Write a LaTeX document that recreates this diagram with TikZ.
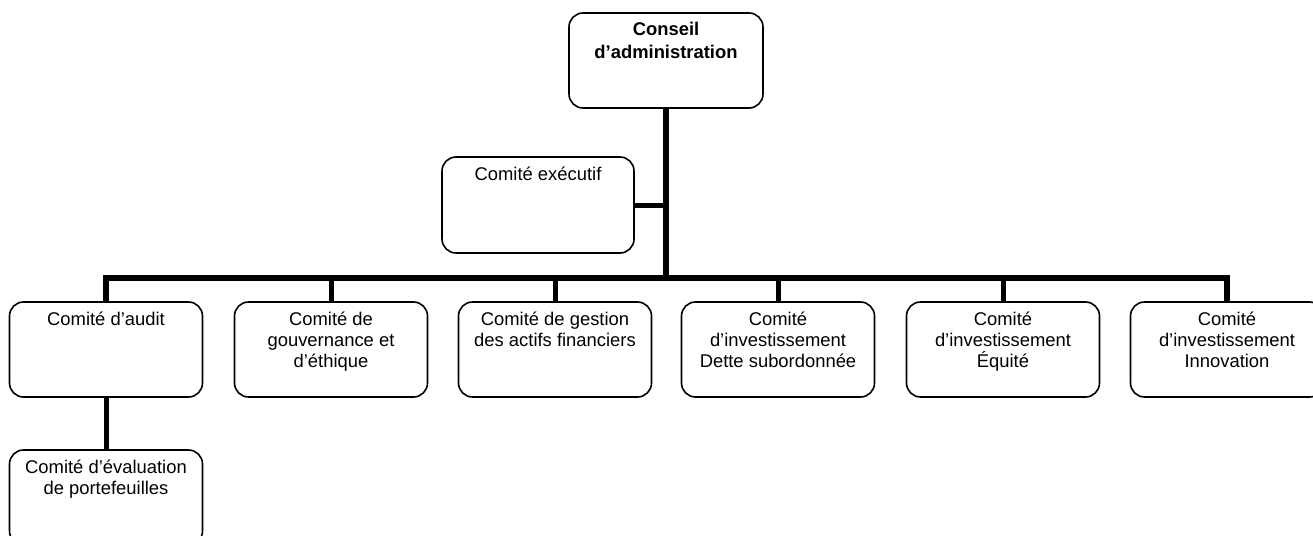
\documentclass[tikz,border=0pt]{standalone}
\usepackage{fontspec}
\setmainfont{Liberation Sans}
\newcommand{\boxtext}[3][95pt]{\parbox[t][#1][t]{#2}{\centering\vspace*{8.3pt}#3\par}}
\tikzset{
  orgbox/.style={draw, line width=1.6pt, rounded corners=14pt, inner sep=0pt, fill=white,
    font=\fontsize{18.4}{21}\selectfont},
  trunk/.style={line width=6pt, line join=miter},
  drop/.style={line width=5pt},
}
\begin{document}
\begin{tikzpicture}[x=1pt,y=-1pt]
\useasboundingbox (0,0) rectangle (1313,535);
\clip (0,0) rectangle (1313,535);
\coordinate (bar) at (666,278);
\node[orgbox, font=\fontsize{18.4}{23}\selectfont\bfseries] (conseil) at (666,60.5)
  {\parbox[t][95pt][t]{194pt}{\centering\vspace*{6.4pt}\strut Conseil\\ d’administration\par}};
\node[orgbox] (exec) at (538,205) {\boxtext[96pt]{192pt}{\strut Comité exécutif}};
\node[orgbox] (audit) at (106,349.5) {\boxtext{193pt}{\strut Comité d’audit}};
\node[orgbox] (gouv) at (331,349.5) {\boxtext{193pt}{\strut Comité de\\ gouvernance et\\ d’éthique}};
\node[orgbox] (gest) at (555,349.5) {\boxtext{193pt}{\strut Comité de gestion\\ des actifs financiers}};
\node[orgbox] (dette) at (778,349.5) {\boxtext{193pt}{\strut Comité\\ d’investissement\\ Dette subordonnée}};
\node[orgbox] (equi) at (1003,349.5) {\boxtext{193pt}{\strut Comité\\ d’investissement\\ Équité}};
\node[orgbox] (inno) at (1227,349.5) {\boxtext{193pt}{\strut Comité\\ d’investissement\\ Innovation}};
\node[orgbox] (eval) at (106,497.5) {\boxtext{193pt}{\strut Comité d’évaluation\\ de portefeuilles}};
\draw[trunk] (conseil.south) -- (bar);
\draw[drop] (exec.east) -- (exec.east -| bar);
\draw[trunk] (audit.north) |- (bar) -| (inno.north);
\draw[drop] (gouv.north) -- (gouv.north |- bar);
\draw[drop] (gest.north) -- (gest.north |- bar);
\draw[drop] (dette.north) -- (dette.north |- bar);
\draw[drop] (equi.north) -- (equi.north |- bar);
\draw[drop] (audit.south) -- (eval.north);
\end{tikzpicture}
\end{document}
